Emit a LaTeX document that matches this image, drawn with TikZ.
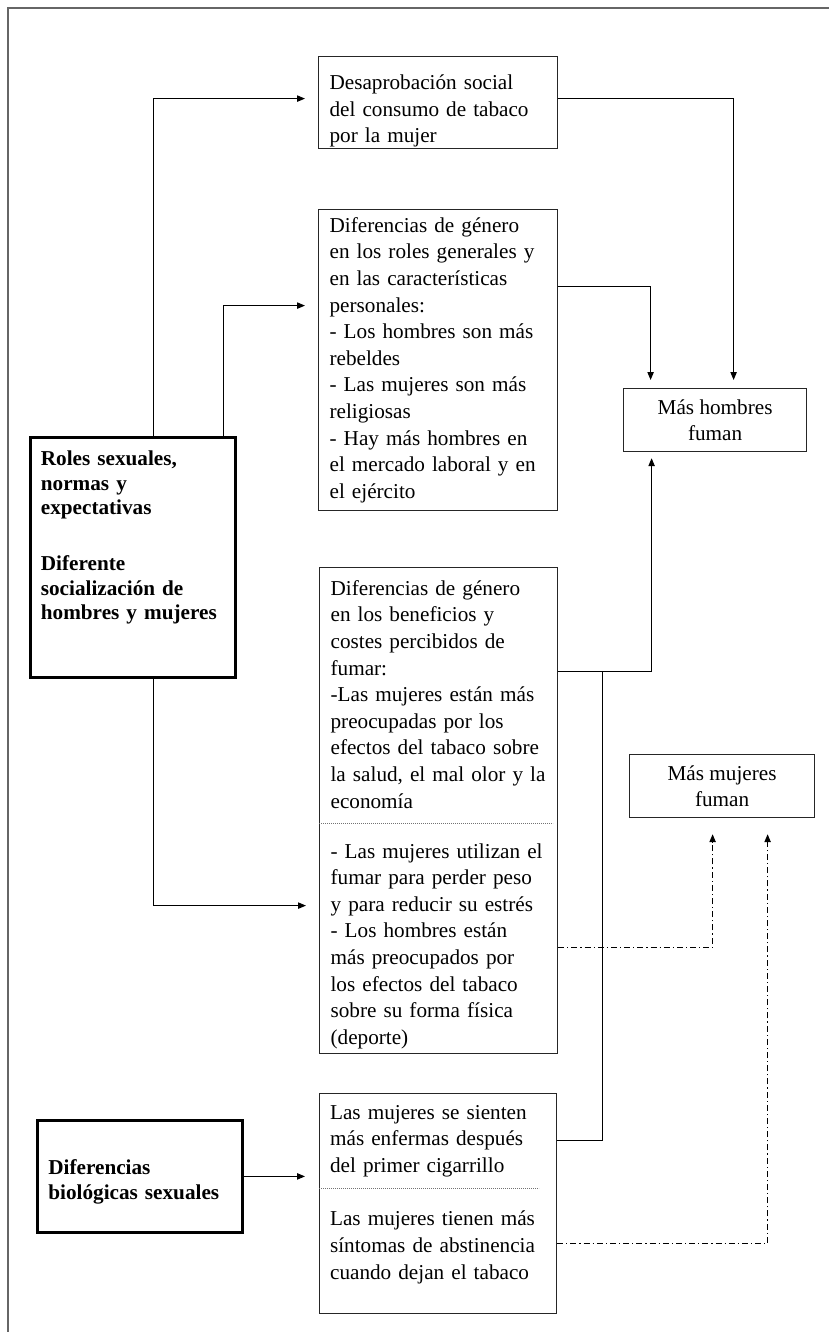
\documentclass[tikz,border=0pt]{standalone}
\usepackage{fontspec}
\setmainfont{Liberation Serif}
\usetikzlibrary{arrows.meta}
\newcommand\boxfont{\fontsize{10.6pt}{13.3pt}\selectfont}
\newcommand\rolefont{\fontsize{10.6pt}{12.25pt}\selectfont\bfseries}
\tikzset{
  txtbox/.style={draw=black!85, line width=0.6pt, anchor=north west, align=left,
    inner xsep=5.5pt, inner ysep=0pt, font=\boxfont},
  rolebox/.style={txtbox, draw=black, line width=1.4pt, font=\rolefont},
  resbox/.style={draw=black!85, line width=0.6pt, anchor=north west, align=center,
    inner sep=0pt, font=\boxfont},
  link/.style={-{Triangle[length=4pt,width=3.2pt]}, line width=0.5pt},
  dashlink/.style={link, dash pattern=on 3pt off 1.5pt on 0.6pt off 1.5pt},
  sepline/.style={black!55, line width=0.4pt, dash pattern=on 0.4pt off 0.6pt},
  framing/.style={black!60, line width=1pt}
}

\begin{document}
\begin{tikzpicture}[x=0.5pt, y=-0.5pt]
  \useasboundingbox (0,0) rectangle (829,1332);
  \draw[framing] (8,1332) -- (8,8) -- (829,8);

  % causes
  \node[rolebox, text width=92pt, inner xsep=5.25pt, minimum height=120pt] (roles) at (29,436)
    {Roles sexuales,\\normas y\\expectativas\\[15.75pt]Diferente\\socialización de\\hombres y mujeres\\[9.75pt]\mbox{}};
  \node[rolebox, text width=91.5pt, inner xsep=5.5pt, minimum height=56pt] (biol) at (36,1119)
    {\rule{0pt}{13pt}Diferencias\\biológicas sexuales};

  % mechanisms
  \node[txtbox, text width=108.5pt, minimum height=46pt] (desap) at (318,56)
    {\rule{0pt}{16pt}Desaprobación social\\del consumo de tabaco\\por la mujer};
  \node[txtbox, text width=108.5pt, minimum height=150.5pt] (rolesgen) at (318,209)
    {Diferencias de género\\en los roles generales y\\en las características\\personales:\\- Los hombres son más\\rebeldes\\- Las mujeres son más\\religiosas\\- Hay más hombres en\\el mercado laboral y en\\el ejército};
  \node[txtbox, text width=108pt, minimum height=243pt] (benef) at (319,567)
    {\rule{0pt}{11.5pt}Diferencias de género\\en los beneficios y\\costes percibidos de\\fumar:\\-Las mujeres están más\\preocupadas por los\\efectos del tabaco sobre\\la salud, el mal olor y la\\economía\\[11.75pt]- Las mujeres utilizan el\\fumar para perder peso\\y para reducir su estrés\\- Los hombres están\\más preocupados por\\los efectos del tabaco\\sobre su forma física\\(deporte)};
  \node[txtbox, text width=108pt, inner xsep=5.25pt, minimum height=110pt] (biosint) at (319,1093)
    {Las mujeres se sienten\\más enfermas después\\del primer cigarrillo\\[13.5pt]Las mujeres tienen más\\síntomas de abstinencia\\cuando dejan el tabaco\\[-1.75pt]\mbox{}};
  \draw[sepline] (319,823) -- (553,823);
  \draw[sepline] (319,1188) -- (539,1188);

  % outcomes
  \node[resbox, minimum width=91.5pt, minimum height=31.5pt] (mhomb) at (623,388) {Más hombres\\fuman};
  \node[resbox, minimum width=92.5pt, minimum height=31.5pt] (mmuj) at (629,754) {Más mujeres\\fuman};

  % left connectors
  \draw[link, shorten >=6.5pt] ([xshift=62pt]roles.north west) |- ([yshift=2pt]desap.west);
  \draw[link, shorten >=6.5pt] ([xshift=97pt]roles.north west) |- ([yshift=27.25pt]rolesgen.west);
  \draw[link, shorten >=6.5pt] ([xshift=62pt]roles.south west) |- ([yshift=-47.5pt]benef.west);
  \draw[link, shorten >=7pt] (biol.east) -- (biol.east -| biosint.west);

  % right connectors
  \coordinate (join) at (602,671);
  \draw[link, shorten >=4pt] ([yshift=2pt]desap.east) -| ([xshift=9.25pt]mhomb.north);
  \draw[link, shorten >=4pt] ([yshift=36.75pt]rolesgen.east) -| ([xshift=-32.25pt]mhomb.north);
  \draw[link, shorten >=3pt] ([yshift=69.5pt]benef.east) -| ([xshift=-31.75pt]mhomb.south);
  \draw[line width=0.5pt] ([yshift=31.5pt]biosint.east) -| (join);
  \draw[dashlink, shorten >=8pt] ([yshift=-68.5pt]benef.east) -| ([xshift=-4.75pt]mmuj.south);
  \draw[dashlink, shorten >=8pt] ([yshift=-20pt]biosint.east) -| ([xshift=22.75pt]mmuj.south);
\end{tikzpicture}
\end{document}
